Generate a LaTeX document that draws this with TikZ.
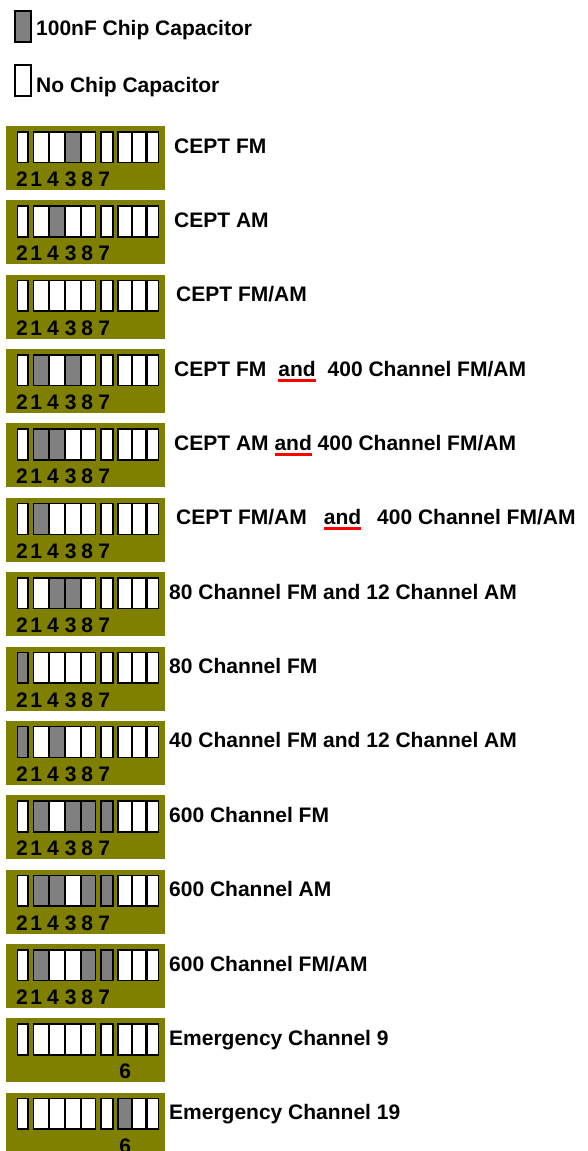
\documentclass[tikz,border=0pt]{standalone}
\usepackage{fontspec}
\setmainfont{Liberation Sans}
\definecolor{olivebg}{HTML}{808000}
\definecolor{capgray}{HTML}{808080}
\definecolor{ulred}{HTML}{FF0000}
\newcommand{\redul}[1]{\setbox0\hbox{#1}\rlap{\textcolor{ulred}{\rule[-6pt]{\wd0}{3pt}}}\box0\relax}
\tikzset{
  lbl/.style={anchor=base west, inner sep=0pt, font=\fontsize{21pt}{21pt}\selectfont\bfseries},
  digit/.style={anchor=base, inner sep=0pt, font=\fontsize{21pt}{21pt}\selectfont\bfseries},
  cellbox/.style={draw=black, line width=1.6pt, fill=white},
  graycell/.style={cellbox, fill=capgray},
  board/.style={fill=olivebg},
  divider/.style={draw=black, line width=2.8pt},
}
% #1 row index (0-based), #2 gray cells (0 = none), #3 1 = digits 214387, 6 = single six, #4 name
\newcommand{\capboard}[4]{%
  \pgfmathsetmacro{\T}{126+#1*74.36}
  \path[board] (6,-\T) rectangle ++(159,-64);
  \foreach \i/\xa/\xb in {1/17.3/28,2/33.5/48.8,3/48.8/65,4/65/80.8,5/80.8/95.5,6/101/113,7/118/131.8,8/131.8/146.5,9/146.5/158.5}{
    \path[cellbox] (\xa,-\T-5.8) rectangle (\xb,-\T-36.5);
  }
  \foreach \g in {#2}{
    \ifnum\g>0
      \pgfmathsetmacro{\xa}{{17.3,33.5,48.8,65,80.8,101,118,131.8,146.5}[\g-1]}
      \pgfmathsetmacro{\xb}{{28,48.8,65,80.8,95.5,113,131.8,146.5,158.5}[\g-1]}
      \path[graycell] (\xa,-\T-5.8) rectangle (\xb,-\T-36.5);
    \fi
  }
  \path[divider] (146.5,-\T-5.8) -- (146.5,-\T-36.5);
  \ifnum#3=1
    \foreach \d/\x [count=\k] in {2/22,1/36.3,4/53,3/70.8,8/87.2,7/104.2}{
      \node[digit] (dg#4-\k) at (\x,-\T-60.5) {\d};
    }
  \else
    \node[digit] (six#4) at (125.3,-\T-60.5) {6};
  \fi
}
\begin{document}
\begin{tikzpicture}[x=1pt,y=1pt]
\clip (0,0) rectangle (588,-1151);
\fill[white] (0,0) rectangle (588,-1151);
% legend
\path[graycell, line width=1.5pt] (14.8,-10.8) rectangle (31,-42.2);
\node[lbl] (leg1) at (36,-35) {100nF Chip Capacitor};
\path[cellbox, line width=1.5pt] (14.8,-64.8) rectangle (31,-96.2);
\node[lbl] (leg2) at (36,-92) {No Chip Capacitor};
% boards
\capboard{0}{4}{1}{a}
\node[lbl] (lbl1) at (174,-153) {CEPT FM};
\capboard{1}{3}{1}{b}
\node[lbl] (lbl2) at (174,-227.4) {CEPT AM};
\capboard{2}{0}{1}{c}
\node[lbl] (lbl3) at (176,-301.7) {CEPT FM/AM};
\capboard{3}{2,4}{1}{d}
\node[lbl] (lbl4) at (174,-376.1) {CEPT FM\hspace{12pt}\redul{and}\hspace{12pt}400 Channel FM/AM};
\capboard{4}{2,3}{1}{e}
\node[lbl] (lbl5) at (174,-450.4) {CEPT AM \redul{and} 400 Channel FM/AM};
\capboard{5}{2}{1}{f}
\node[lbl] (lbl6) at (176,-524.4) {CEPT FM/AM\hspace{17pt}\redul{and}\hspace{16pt}400 Channel FM/AM};
\capboard{6}{3,4}{1}{g}
\node[lbl] (lbl7) at (169,-599.2) {80 Channel FM and 12 Channel AM};
\capboard{7}{1}{1}{h}
\node[lbl] (lbl8) at (169,-673.5) {80 Channel FM};
\capboard{8}{1,3}{1}{i}
\node[lbl] (lbl9) at (169,-747.9) {40 Channel FM and 12 Channel AM};
\capboard{9}{2,4,5,6}{1}{j}
\node[lbl] (lbl10) at (169,-822.2) {600 Channel FM};
\capboard{10}{2,3,5,6}{1}{k}
\node[lbl] (lbl11) at (169,-896.6) {600 Channel AM};
\capboard{11}{2,5,6}{1}{l}
\node[lbl] (lbl12) at (169,-971) {600 Channel FM/AM};
\capboard{12}{0}{6}{m}
\node[lbl] (lbl13) at (169,-1045.3) {Emergency Channel 9};
\capboard{13}{7}{6}{n}
\node[lbl] (lbl14) at (169,-1119.7) {Emergency Channel 19};
\end{tikzpicture}
\end{document}
